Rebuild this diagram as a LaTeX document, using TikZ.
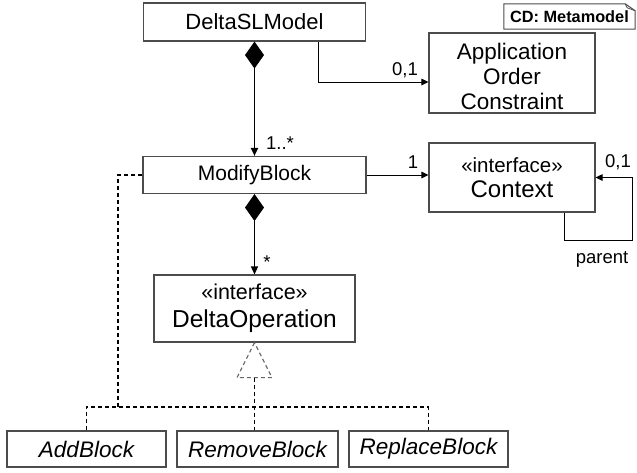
\documentclass[tikz,border=0pt]{standalone}
\usepackage{fontspec}
\setmainfont{Liberation Sans}
\usetikzlibrary{arrows.meta}
\begin{document}
\begin{tikzpicture}[x=1pt,y=-1pt,
  box/.style={draw=black!70, line width=1.1pt, fill=white, inner sep=0pt, align=center},
  cls/.style={box, font=\fontsize{22}{26}\selectfont},
  lbl/.style={inner sep=0pt, font=\fontsize{18.5}{20}\selectfont},
  assoc/.style={line width=1pt, -{Triangle[length=7pt,width=6.5pt]}},
  comp/.style={line width=#1, {Diamond[length=27pt,width=19pt]}-{Triangle[length=8pt,width=7pt]}},
  real/.style={line width=1.1pt, dash pattern=on 4pt off 3pt}
]
\useasboundingbox (0,0) rectangle (637,472);

% classes
\node[cls, minimum width=222, minimum height=38] (model) at (254.5,22) {DeltaSLModel};
\node[box, minimum width=166, minimum height=80] (aoc) at (512,73) {};
\node[inner sep=0pt, align=center, font=\fontsize{22.5}{25}\selectfont] (aoct) at ([yshift=-3pt]aoc.center) {Application\\Order\\Constraint};
\node[cls, minimum width=223, minimum height=37, font=\fontsize{21}{26}\selectfont] (mod) at (254.5,175) {ModifyBlock};
\node[box, minimum width=166, minimum height=69, font=\fontsize{24}{25}\selectfont] (ctx) at (512,177.5)
  {\fontsize{20.5}{25}\selectfont «interface»\\\fontsize{24}{25}\selectfont Context};
\node[box, minimum width=201, minimum height=67, font=\fontsize{24.5}{28}\selectfont] (dop) at (254.5,308.5)
  {\fontsize{21.5}{28}\selectfont «interface»\\\fontsize{24.5}{28}\selectfont DeltaOperation};
\node[cls, minimum width=159, minimum height=36, font=\fontsize{22.5}{26}\selectfont\itshape] (add) at (86.5,449) {AddBlock};
\node[cls, minimum width=161, minimum height=36, font=\fontsize{22.5}{26}\selectfont\itshape] (rem) at (257.5,449) {RemoveBlock};
\node[cls, minimum width=159, minimum height=36, font=\fontsize{22.5}{26}\selectfont\itshape] (rep) at (428.5,449) {ReplaceBlock};

% note
\node[inner sep=0pt, minimum width=131, minimum height=25, font=\bfseries\fontsize{16.3}{18}\selectfont] (note) at (569.5,16.5) {CD: Metamodel};
\draw[black!70, line width=1pt] (note.south west) -- (note.north west) -- ([xshift=-10pt]note.north east)
  -- ([yshift=-7pt]note.north east) -- (note.south east) -- cycle;
\draw[black!70, line width=0.8pt] ([xshift=-10pt]note.north east) -- ([xshift=-8pt,yshift=-4pt]note.north east) -- ([yshift=-7pt]note.north east);

% compositions
\draw[comp=1.8pt] (model.south) -- (mod.north);
\draw[comp=1.3pt] (mod.south) -- (dop.north);

% associations
\draw[assoc] ([xshift=63.5pt]model.south) |- ([yshift=-9pt]aoc.west);
\draw[assoc] (mod.east) -- (mod.east -| ctx.west);
\draw[assoc] ([xshift=52pt]ctx.south) -- ++(0,28) -| ([xshift=37pt]ctx.east) -- (ctx.east);

% labels
\node[lbl] (l01a) at (405,70) {0,1};
\node[lbl] (lmany) at (280,143) {1..*};
\node[lbl] (lone) at (413,162) {1};
\node[lbl] (l01b) at (618,162) {0,1};
\node[lbl] (lpar) at (602,259) {parent};
\node[lbl] (lstar) at (267,262) {*};

% realization
\coordinate (apex) at (dop.south);
\draw[real, draw=black!60, fill=white] (apex) -- ++(-17.5,35) -- ++(35,0) -- cycle;
\coordinate (tbase) at ([yshift=-35pt]apex);
\coordinate (j) at (254.5,407);
\draw[real] (tbase) -- (tbase |- rem.north);
\draw[real] (add.north) -- (add.north |- j) -- (rep.north |- j) -- (rep.north);
\draw[real] (mod.west) -- (118,175) -- (118,407);
\end{tikzpicture}
\end{document}
